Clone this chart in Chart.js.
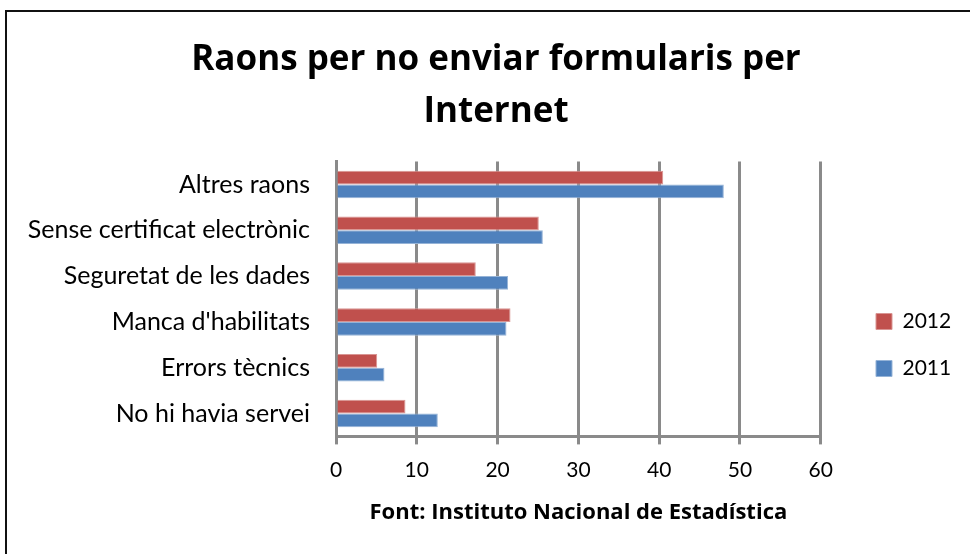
<!DOCTYPE html>
<html>
<head>
<meta charset="utf-8">
<script src="https://cdn.jsdelivr.net/npm/chart.js@4.4.0/dist/chart.umd.min.js"></script>
<style>
  html, body { margin: 0; padding: 0; background: #fff; overflow: hidden; }
  #frame {
    position: absolute; left: 5px; top: 10px; width: 1000px; height: 600px;
    border: 2px solid #111; box-sizing: border-box;
  }
  #wrap { position: absolute; left: 0; top: 0; width: 970px; height: 554px; }
</style>
</head>
<body>
<div id="frame"></div>
<div id="wrap"><canvas id="grafic" width="970" height="554"></canvas></div>
<script>
// ==============================
// Dades
// ==============================
const categories = [
  "Altres raons",
  "Sense certificat electrònic",
  "Seguretat de les dades",
  "Manca d'habilitats",
  "Errors tècnics",
  "No hi havia servei",
];
const valors2012 = [40.5, 25.1, 17.3, 21.6, 5.1, 8.6];
const valors2011 = [48.0, 25.6, 21.3, 21.1, 6.0, 12.6];
const xTicks = [0, 10, 20, 30, 40, 50, 60];

const FONT = "Lato, 'Open Sans', sans-serif";
const FONT_B = "'Open Sans', Lato, sans-serif";
const GRID = "#8a8a8a";

// desplaça títol i llegenda com a l'original
const ajustos = {
  id: "ajustos",
  afterLayout(chart) {
    const lg = chart.legend;
    if (lg) {
      const dy = 345 - (lg.top + lg.bottom) / 2;
      const dx = 850 - lg.left;
      lg.top += dy; lg.bottom += dy;
      lg.left += dx; lg.right += dx;
    }
    const t = chart.titleBlock;
    if (t) {
      const dx = 496 - (t.left + t.right) / 2;
      t.left += dx; t.right += dx;
    }
  },
};

// ==============================
// Gràfic de barres horitzontal
// ==============================
const ctx = document.getElementById("grafic");
new Chart(ctx, {
  type: "bar",
  data: {
    labels: categories,
    datasets: [
      {
        label: "2012",
        data: valors2012,
        backgroundColor: "#C0504D",
        borderColor: "#D99593",
        borderWidth: 1,
      },
      {
        label: "2011",
        data: valors2011,
        backgroundColor: "#4F81BD",
        borderColor: "#95B3D7",
        borderWidth: 1,
      },
    ],
  },
  plugins: [ajustos],
  options: {
    indexAxis: "y",
    responsive: false,
    animation: false,
    barPercentage: 1,
    categoryPercentage: 0.6,
    layout: { padding: { left: 0, right: 38, top: 0, bottom: 28 } },
    plugins: {
      title: {
        display: true,
        text: ["Raons per no enviar formularis per", "Internet"],
        color: "#000",
        font: { family: FONT_B, size: 35, weight: "bold", lineHeight: 1.48 },
        padding: { top: 34, bottom: 24 },
      },
      legend: {
        position: "right",
        labels: {
          color: "#000",
          boxWidth: 16,
          boxHeight: 16,
          padding: 26,
          font: { family: FONT, size: 21 },
        },
      },
      tooltip: { enabled: false },
    },
    scales: {
      x: {
        min: 0,
        max: 60,
        afterBuildTicks: (scale) => {
          scale.ticks = xTicks.map((v) => ({ value: v }));
        },
        grid: {
          color: GRID,
          lineWidth: 3,
          tickLength: 8,
          tickColor: GRID,
        },
        border: { color: GRID, width: 3 },
        ticks: {
          color: "#000",
          padding: 13,
          font: { family: FONT, size: 21 },
        },
        title: {
          display: true,
          text: "Font: Instituto Nacional de Estadística",
          color: "#000",
          font: { family: FONT_B, size: 22, weight: "bold" },
          padding: { top: 4, bottom: 0 },
        },
      },
      y: {
        afterFit: (scale) => {
          scale.width = 336;
        },
        grid: { display: false, drawTicks: false },
        border: { color: GRID, width: 3 },
        ticks: {
          color: "#000",
          padding: 26,
          font: { family: FONT, size: 25 },
        },
      },
    },
  },
});
</script>
</body>
</html>
